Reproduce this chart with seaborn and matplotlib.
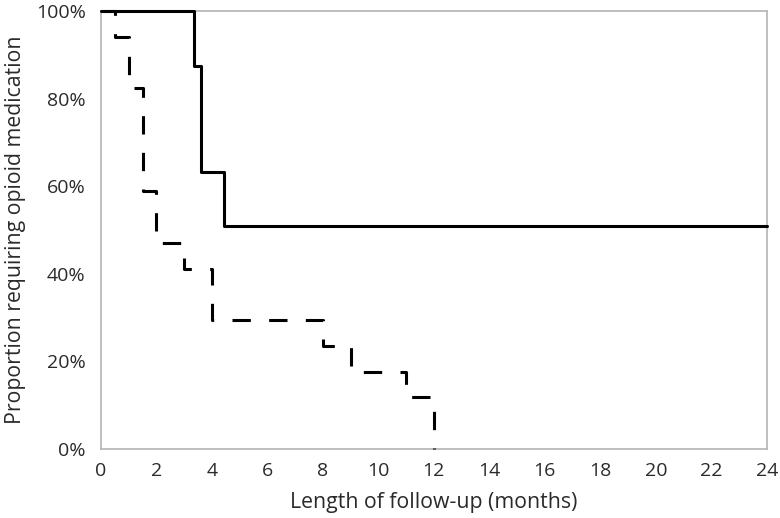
import matplotlib
matplotlib.use('Agg')
import matplotlib.pyplot as plt
import numpy as np
import pandas as pd
import seaborn as sns
from matplotlib.ticker import MultipleLocator, FuncFormatter

# Kaplan-Meier style step curves
SOLID_MONTHS = [0, 3.35, 3.6, 4.45, 24]
SOLID_PCT = [100, 87.5, 63.3, 51.0, 51.0]
DASHED_MONTHS = [0, 0.5, 1, 1.5, 2, 3, 4, 8, 9, 11, 12]
DASHED_PCT = [100, 94.1, 82.4, 58.8, 47.1, 41.2, 29.4, 23.5, 17.6, 11.8, 0]

df = pd.concat([
    pd.DataFrame({'months': SOLID_MONTHS, 'pct': SOLID_PCT, 'group': 'solid'}),
    pd.DataFrame({'months': DASHED_MONTHS, 'pct': DASHED_PCT, 'group': 'dashed'}),
])

sns.set_style('white')
plt.rcParams['font.family'] = ['Open Sans', 'DejaVu Sans']

fig = plt.figure(figsize=(7.8, 5.18), dpi=100)
ax = fig.add_axes([0.1295, 0.133, 0.8535, 0.846])

sns.lineplot(data=df, x='months', y='pct', style='group',
             dashes={'solid': '', 'dashed': (6, 6)},
             color='black', linewidth=2.2, drawstyle='steps-post',
             legend=False, ax=ax, clip_on=False, zorder=3)

ax.set_xlim(0, 24)
ax.set_ylim(0, 100)
ax.xaxis.set_major_locator(MultipleLocator(2))
ax.xaxis.set_minor_locator(MultipleLocator(1))
ax.yaxis.set_major_locator(MultipleLocator(20))
ax.yaxis.set_minor_locator(MultipleLocator(10))
ax.yaxis.set_major_formatter(FuncFormatter(lambda v, p: f'{v:.0f}%'))

grey = '#b4b4b4'
for s in ax.spines.values():
    s.set_color(grey)
    s.set_linewidth(1.2)
ax.tick_params(which='both', direction='out', color=grey, width=1.0,
               labelsize=14, labelcolor='#2a2a2a')
ax.tick_params(which='major', length=6)
ax.tick_params(which='minor', length=4)
ax.tick_params(axis='x', which='major', pad=3)
ax.tick_params(axis='y', which='major', pad=5)

ax.set_xlabel('Length of follow-up (months)', fontsize=15.3, color='#2a2a2a', labelpad=9)
ax.set_ylabel('Proportion requiring opioid medication', fontsize=15.3, color='#2a2a2a', labelpad=7)

fig.savefig('out.png', dpi=100)
